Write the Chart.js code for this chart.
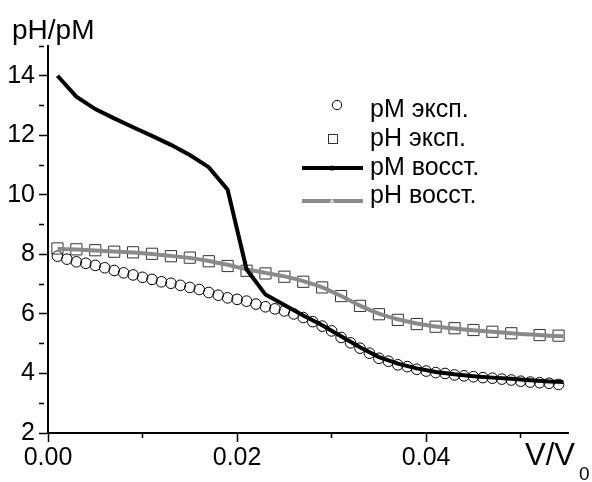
<!DOCTYPE html>
<html>
<head>
<meta charset="utf-8">
<script src="https://cdn.jsdelivr.net/npm/chart.js@4.4.1/dist/chart.umd.min.js"></script>
<style>
  html, body { margin: 0; padding: 0; background: #fff; }
  .titr_container { width: 592px; height: 482px; }
</style>
</head>
<body>
<div class="titr_container">
  <canvas id="titr"></canvas>
</div>

<script>
// V/V0 values and pM / pH
var pmExpX = [0.001, 0.002, 0.003, 0.004, 0.005, 0.006, 0.007, 0.008, 0.009, 0.010,
              0.011, 0.012, 0.013, 0.014, 0.015, 0.016, 0.017, 0.018, 0.019, 0.020,
              0.021, 0.022, 0.023, 0.024, 0.025, 0.026, 0.027, 0.028, 0.029, 0.030,
              0.031, 0.032, 0.033, 0.034, 0.035, 0.036, 0.037, 0.038, 0.039, 0.040,
              0.041, 0.042, 0.043, 0.044, 0.045, 0.046, 0.047, 0.048, 0.049, 0.050,
              0.051, 0.052, 0.053, 0.054];
var pmExp = [7.94, 7.84, 7.75, 7.70, 7.63, 7.55, 7.46, 7.38, 7.31, 7.23,
             7.16, 7.08, 7.03, 6.96, 6.89, 6.82, 6.72, 6.63, 6.54, 6.49,
             6.43, 6.33, 6.24, 6.17, 6.10, 6.00, 5.88, 5.74, 5.59, 5.43,
             5.21, 5.03, 4.85, 4.68, 4.51, 4.41, 4.29, 4.23, 4.14, 4.08,
             4.03, 4.00, 3.95, 3.92, 3.89, 3.86, 3.84, 3.81, 3.78, 3.74,
             3.71, 3.69, 3.67, 3.63];

var phExpX = [0.001, 0.003, 0.005, 0.007, 0.009, 0.011, 0.013, 0.015, 0.017, 0.019,
              0.021, 0.023, 0.025, 0.027, 0.029, 0.031, 0.033, 0.035, 0.037, 0.039,
              0.041, 0.043, 0.045, 0.047, 0.049, 0.052, 0.054];
var phExp = [8.20, 8.17, 8.14, 8.09, 8.07, 8.02, 7.94, 7.89, 7.77, 7.61,
             7.45, 7.36, 7.25, 7.08, 6.89, 6.60, 6.27, 5.99, 5.80, 5.66,
             5.57, 5.52, 5.46, 5.40, 5.35, 5.29, 5.27];

var fitX = [0.001, 0.003, 0.005, 0.007, 0.009, 0.011, 0.013, 0.015, 0.017, 0.019,
            0.021, 0.023, 0.025, 0.027, 0.029, 0.031, 0.033, 0.035, 0.037, 0.039,
            0.041, 0.043, 0.045, 0.047, 0.049, 0.051, 0.053, 0.0545];
var pmFit = [14.0, 13.3, 12.88, 12.57, 12.27, 11.98, 11.68, 11.34, 10.93, 10.17,
             7.5, 6.65, 6.30, 5.95, 5.62, 5.25, 4.88, 4.55, 4.33, 4.17,
             4.05, 3.97, 3.91, 3.86, 3.82, 3.77, 3.73, 3.71];
var phFit = [8.19, 8.16, 8.13, 8.10, 8.06, 8.01, 7.95, 7.88, 7.78, 7.65,
             7.50, 7.38, 7.26, 7.10, 6.89, 6.60, 6.28, 6.01, 5.82, 5.68,
             5.58, 5.51, 5.45, 5.40, 5.35, 5.31, 5.27, 5.25];

var seriesNames = ['pM эксп.', 'pH эксп.', 'pM восст.', 'pH восст.'];
var xTicks = [0, 0.01, 0.02, 0.03, 0.04, 0.05];

function pairs(xs, ys) {
  return xs.map(function(x, i) { return {x: x, y: ys[i]}; });
}

function isMajorX(v) { return Math.round(v * 100) % 2 === 0; }
function isMajorY(v) { return Math.round(v) % 2 === 0; }

Chart.defaults.font.family = '"Liberation Sans", Arial, sans-serif';
Chart.defaults.font.size = 25;
Chart.defaults.color = '#000';

// axis titles and the legend sit inside / around the plot, drawn by hand
var extras = {
  id: 'extras',
  afterDraw: function(chart) {
    var c = chart.ctx;
    var ds = chart.data.datasets;
    c.save();
    c.fillStyle = '#000';
    c.textBaseline = 'alphabetic';
    c.textAlign = 'left';

    c.font = '28px "Liberation Sans", Arial, sans-serif';
    c.fillText('pH/pM', 12, 39);
    c.font = '31px "Liberation Sans", Arial, sans-serif';
    c.fillText('V/V', 525, 465);
    c.font = '19px "Liberation Sans", Arial, sans-serif';
    c.fillText('0', 579, 480);

    var rows = [
      {base: 117, mark: 105},
      {base: 146, mark: 139},
      {base: 175, mark: 168},
      {base: 203, mark: 201}
    ];
    c.font = '25px "Liberation Sans", Arial, sans-serif';
    rows.forEach(function(r, i) {
      var d = ds[i];
      c.fillStyle = '#000';
      c.fillText(d.label, 370, r.base);
      c.lineWidth = 1;
      if (i === 0) {
        c.strokeStyle = d.borderColor;
        c.beginPath();
        c.arc(337, r.mark, 4.7, 0, Math.PI * 2);
        c.stroke();
      } else if (i === 1) {
        c.strokeStyle = d.borderColor;
        c.strokeRect(328.5, r.mark - 4.5, 9, 9);
      } else {
        c.strokeStyle = d.borderColor;
        c.lineWidth = d.borderWidth;
        c.beginPath();
        c.moveTo(302, r.mark);
        c.lineTo(363, r.mark);
        c.stroke();
        if (i === 2) {
          c.fillStyle = '#000';
          c.beginPath();
          c.arc(332, r.mark, 2.6, 0, Math.PI * 2);
          c.fill();
        } else {
          c.fillStyle = '#ddd';
          c.beginPath();
          c.moveTo(332, r.mark - 2.5);
          c.lineTo(334.5, r.mark + 1.5);
          c.lineTo(329.5, r.mark + 1.5);
          c.closePath();
          c.fill();
        }
      }
    });
    c.restore();
  }
};

var ctx = document.getElementById('titr');
var titr = new Chart(ctx, {
  type: 'scatter',
  data: {
    datasets: [{
      label: seriesNames[0],
      data: pairs(pmExpX, pmExp),
      pointStyle: 'circle',
      pointRadius: 5.3,
      pointBorderWidth: 1,
      borderColor: '#000',
      backgroundColor: 'rgba(0,0,0,0)',
      order: 2
    }, {
      label: seriesNames[1],
      data: pairs(phExpX, phExp),
      pointStyle: 'rect',
      pointRadius: 7.9,
      pointBorderWidth: 1,
      borderColor: '#333',
      backgroundColor: 'rgba(0,0,0,0)',
      order: 3
    }, {
      label: seriesNames[2],
      data: pairs(fitX, pmFit),
      showLine: true,
      borderColor: '#000',
      borderWidth: 4,
      pointRadius: 0,
      tension: 0,
      order: 0
    }, {
      label: seriesNames[3],
      data: pairs(fitX, phFit),
      showLine: true,
      borderColor: '#8a8a8a',
      borderWidth: 4,
      pointRadius: 0,
      tension: 0.2,
      order: 1
    }]
  },
  options: {
    responsive: true,
    maintainAspectRatio: false,
    animation: false,
    devicePixelRatio: 1,
    layout: { padding: { top: 46, right: 24, left: 0, bottom: 0 } },
    plugins: {
      legend: { display: false },
      tooltip: { enabled: false }
    },
    scales: {
      x: {
        type: 'linear',
        position: 'bottom',
        min: 0,
        max: 0.055,
        afterBuildTicks: function(s) {
          s.ticks = xTicks.map(function(v) { return {value: v}; });
        },
        afterFit: function(s) { s.height = 49; },
        border: { color: '#000', width: 2 },
        grid: {
          drawOnChartArea: false,
          tickLength: 9,
          tickWidth: 1.5,
          tickColor: '#000',
          tickBorderDash: function(c) {
            return (c.tick && !isMajorX(c.tick.value)) ? [4, 40] : [];
          }
        },
        ticks: {
          padding: 1,
          maxRotation: 0,
          autoSkip: false,
          callback: function(v) { return isMajorX(v) ? v.toFixed(2) : ''; }
        }
      },
      y: {
        type: 'linear',
        min: 2,
        max: 15,
        afterFit: function(s) { s.width = 48; },
        border: { color: '#000', width: 2 },
        grid: {
          drawOnChartArea: false,
          tickLength: 9,
          tickWidth: 1.5,
          tickColor: '#000',
          tickBorderDash: function(c) {
            return (c.tick && !isMajorY(c.tick.value)) ? [5, 40] : [];
          }
        },
        ticks: {
          stepSize: 1,
          padding: 4,
          autoSkip: false,
          callback: function(v) { return isMajorY(v) ? String(v) : ''; }
        }
      }
    }
  },
  plugins: [extras]
});
</script>
</body>
</html>
